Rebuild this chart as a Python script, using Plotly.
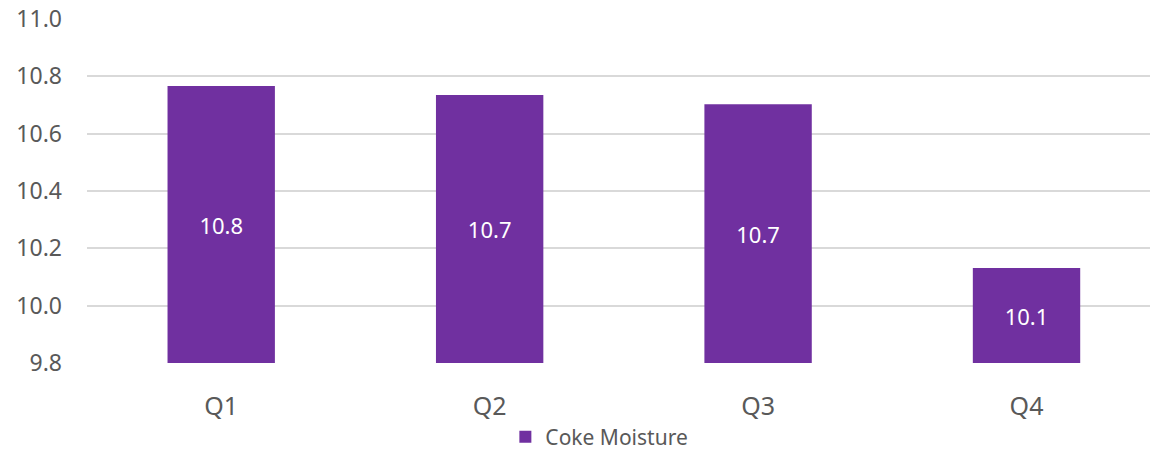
import plotly.graph_objects as go

categories = ["Q1", "Q2", "Q3", "Q4"]
coke_moisture = [10.766, 10.735, 10.703, 10.131]
axis_base = 9.8
series_name = "Coke Moisture"

FONT = "Noto Sans"
PURPLE = "#7030a0"
GREY = "#595959"

fig = go.Figure()
fig.add_trace(go.Bar(
    x=categories,
    y=[v - axis_base for v in coke_moisture],
    base=axis_base,
    name=series_name,
    marker=dict(color=PURPLE, line=dict(width=0)),
    width=0.4,
    text=[f"{v:.1f}" for v in coke_moisture],
    textposition="inside",
    insidetextanchor="middle",
    textfont=dict(family=FONT, size=22, color="white"),
    customdata=coke_moisture,
    hovertemplate="%{x}: %{customdata}<extra></extra>",
))

fig.update_layout(
    width=1150, height=452,
    margin=dict(l=87, r=0, t=19, b=89),
    paper_bgcolor="white", plot_bgcolor="white",
    font=dict(family=FONT, color=GREY),
    showlegend=True,
    legend=dict(
        orientation="h", x=0.482, xanchor="center",
        yref="container", y=0.033, yanchor="middle",
        font=dict(family=FONT, size=21, color=GREY),
        itemwidth=30,
    ),
    xaxis=dict(
        range=[-0.5, 3.46],
        showgrid=False, zeroline=False, showline=False,
        tickfont=dict(family=FONT, size=25, color=GREY),
        ticklabelstandoff=26,
        automargin=False,
    ),
    yaxis=dict(
        range=[9.8, 11.0],
        tickvals=[9.8, 10.0, 10.2, 10.4, 10.6, 10.8, 11.0],
        ticktext=["9.8", "10.0", "10.2", "10.4", "10.6", "10.8", "11.0"],
        showgrid=True, gridcolor="#d9d9d9", gridwidth=1.5,
        zeroline=False, showline=False,
        tickfont=dict(family=FONT, size=23, color=GREY),
        ticklabelstandoff=24,
        automargin=False,
    ),
    bargap=0.6,
)

fig.write_html("out.html")
